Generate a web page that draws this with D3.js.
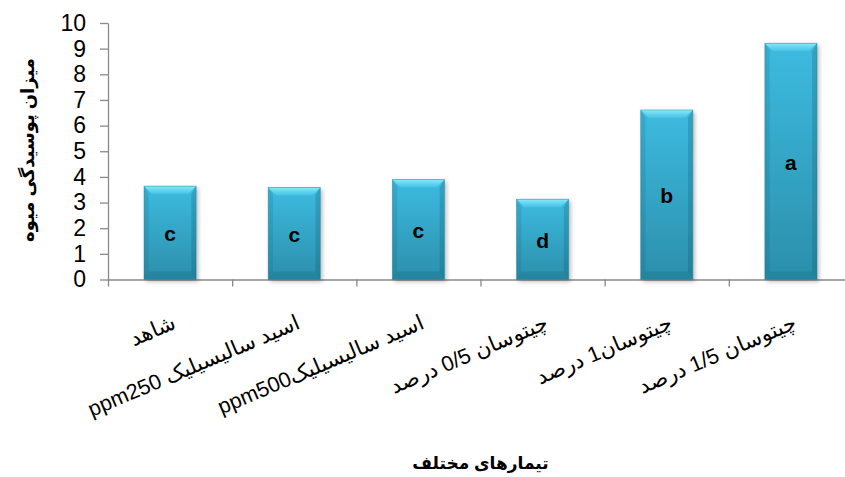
<!DOCTYPE html>
<html>
<head>
<meta charset="utf-8">
<script src="https://cdn.jsdelivr.net/npm/d3@7/dist/d3.min.js"></script>
<style>
  html, body { margin: 0; padding: 0; background: #fff; }
  svg { display: block; }
</style>
</head>
<body>
<svg id="chart" width="845" height="477"></svg>
<script>
// Treatments, fruit-decay scores and their significance groups
const categories = [
  "شاهد",
  "اسید سالیسیلیک ppm250",
  "اسید سالیسیلیکppm500",
  "چیتوسان 0/5 درصد",
  "چیتوسان1 درصد",
  "چیتوسان 1/5 درصد"
];
const values = [3.64, 3.59, 3.9, 3.13, 6.61, 9.21];
const letters = ["c", "c", "c", "d", "b", "a"];
const yTickValues = [0, 1, 2, 3, 4, 5, 6, 7, 8, 9, 10];
const yTitle = "میزان پوسیدگی میوه";
const xTitle = "تیمارهای مختلف";

const svg = d3.select("#chart");
const plot = { left: 108, right: 853, top: 23, bottom: 279.5 };
const latin = "Arial, 'Liberation Sans', 'DejaVu Sans', sans-serif";
const axisColor = "#898989";

const y = d3.scaleLinear().domain([0, 10]).range([plot.bottom, plot.top]);
const xCat = d3.scaleBand().domain(categories).range([plot.left, plot.right]).padding(0);
const xBar = d3.scaleBand().domain(categories).range([plot.left, plot.right])
  .paddingInner(0.58).paddingOuter(0.29);

// Gradients and shadow for the bevelled columns
const defs = svg.append("defs");
const face = defs.append("linearGradient").attr("id", "face")
  .attr("x1", 0).attr("y1", 0).attr("x2", 0).attr("y2", 1);
face.append("stop").attr("offset", "0%").attr("stop-color", "#3dbbe0");
face.append("stop").attr("offset", "100%").attr("stop-color", "#2b8fab");
const topBevel = defs.append("linearGradient").attr("id", "topBevel")
  .attr("x1", 0).attr("y1", 0).attr("x2", 0).attr("y2", 1);
topBevel.append("stop").attr("offset", "0%").attr("stop-color", "#86e9fb");
topBevel.append("stop").attr("offset", "100%").attr("stop-color", "#44c1e4");
const shadow = defs.append("filter").attr("id", "shadow")
  .attr("x", "-30%").attr("y", "-10%").attr("width", "160%").attr("height", "130%");
shadow.append("feDropShadow").attr("dx", 2).attr("dy", 2).attr("stdDeviation", 2.2)
  .attr("flood-color", "#000").attr("flood-opacity", 0.28);

// Y axis
const yAxis = svg.append("g")
  .attr("transform", `translate(${plot.left},0)`)
  .call(d3.axisLeft(y).tickValues(yTickValues).tickSize(8).tickSizeOuter(0).tickPadding(14));
yAxis.select(".domain").attr("stroke", axisColor).attr("stroke-width", 1.3);
yAxis.selectAll(".tick line").attr("stroke", axisColor).attr("stroke-width", 1.3);
yAxis.selectAll(".tick text").attr("font-family", latin).attr("font-size", 23).attr("fill", "#000");

// X axis with ticks between categories
const xEdge = d3.scaleLinear().domain([0, categories.length]).range([plot.left, plot.right]);
const xAxis = svg.append("g")
  .attr("transform", `translate(0,${plot.bottom})`)
  .call(d3.axisBottom(xEdge).tickValues(d3.range(categories.length + 1))
    .tickSize(7).tickSizeOuter(0).tickFormat(""));
xAxis.select(".domain").attr("stroke", axisColor).attr("stroke-width", 1.3);
xAxis.selectAll(".tick line").attr("stroke", axisColor).attr("stroke-width", 1.3);

// Columns
const bev = 8;
const bars = svg.append("g").selectAll("g").data(categories).join("g");
bars.each(function (c, i) {
  const g = d3.select(this);
  const x0 = xBar(c), x1 = xBar(c) + xBar.bandwidth();
  const y0 = y(values[i]), y1 = y(0);
  g.append("rect").attr("x", x0).attr("y", y0).attr("width", x1 - x0).attr("height", y1 - y0)
    .attr("fill", "url(#face)").attr("filter", "url(#shadow)");
  const poly = pts => pts.map(p => p.join(",")).join(" ");
  g.append("polygon").attr("points", poly([[x0, y0], [x1, y0], [x1 - bev, y0 + bev], [x0 + bev, y0 + bev]]))
    .attr("fill", "url(#topBevel)");
  g.append("polygon").attr("points", poly([[x0, y0], [x0 + bev * 0.6, y0 + bev], [x0 + bev * 0.6, y1 - bev], [x0, y1]]))
    .attr("fill", "#0a4c60").attr("fill-opacity", 0.14);
  g.append("polygon").attr("points", poly([[x1, y0], [x1 - bev * 0.6, y0 + bev], [x1 - bev * 0.6, y1 - bev], [x1, y1]]))
    .attr("fill", "#0a4c60").attr("fill-opacity", 0.22);
  g.append("polygon").attr("points", poly([[x0, y1], [x0 + bev * 0.6, y1 - bev], [x1 - bev * 0.6, y1 - bev], [x1, y1]]))
    .attr("fill", "#0a4c60").attr("fill-opacity", 0.16);
  g.append("rect").attr("x", x0).attr("y", y0).attr("width", x1 - x0).attr("height", y1 - y0)
    .attr("fill", "none").attr("stroke", "#1f7f98").attr("stroke-opacity", 0.5).attr("stroke-width", 0.8);
  // Significance letter at the middle of the column
  g.append("text")
    .attr("x", (x0 + x1) / 2)
    .attr("y", y(values[i] / 2))
    .attr("dy", "0.4em")
    .attr("text-anchor", "middle")
    .attr("font-family", latin).attr("font-weight", "bold").attr("font-size", 21)
    .attr("fill", "#000")
    .text(letters[i]);
});

// Rotated category labels, right end at each category centre
svg.append("g").selectAll("text").data(categories).join("text")
  .attr("transform", c => `translate(${xCat(c) + xCat.bandwidth() / 2 + 7},328) rotate(-23)`)
  .attr("direction", "rtl")
  .style("direction", "rtl")
  .style("unicode-bidi", "embed")
  .attr("text-anchor", "start")
  .attr("font-family", latin).attr("font-size", 21.5).attr("fill", "#000")
  .text(c => c);

// Axis titles
svg.append("text")
  .attr("transform", `translate(34,150) rotate(-90)`)
  .attr("text-anchor", "middle")
  .attr("font-family", latin).attr("font-weight", "bold").attr("font-size", 18).attr("fill", "#000")
  .text(yTitle);
svg.append("text")
  .attr("x", (plot.left + plot.right) / 2).attr("y", 469)
  .attr("text-anchor", "middle")
  .attr("font-family", latin).attr("font-weight", "bold").attr("font-size", 17).attr("fill", "#000")
  .text(xTitle);
</script>
</body>
</html>
